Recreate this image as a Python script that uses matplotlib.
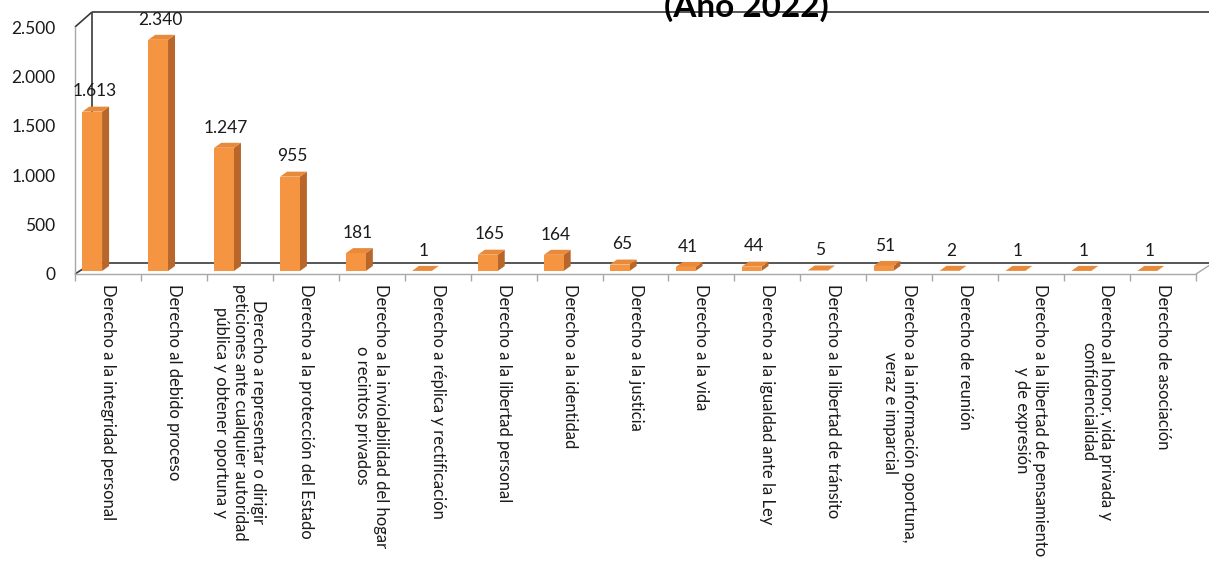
import matplotlib
matplotlib.use("Agg")
import matplotlib.pyplot as plt
from matplotlib.patches import Polygon

# ---------------- data ----------------
categories = [
    "Derecho a la integridad personal",
    "Derecho al debido proceso",
    "Derecho a representar o dirigir\npeticiones ante cualquier autoridad\npública y obtener oportuna y",
    "Derecho a la protección del Estado",
    "Derecho a la inviolabilidad del hogar\no recintos privados",
    "Derecho a réplica y rectificación",
    "Derecho a la libertad personal",
    "Derecho a la identidad",
    "Derecho a la justicia",
    "Derecho a la vida",
    "Derecho a la igualdad ante la Ley",
    "Derecho a la libertad de tránsito",
    "Derecho a la información oportuna,\nveraz e imparcial",
    "Derecho de reunión",
    "Derecho a la libertad de pensamiento\ny de expresión",
    "Derecho al honor, vida privada y\nconfidencialidad",
    "Derecho de asociación",
]
values = [1613, 2340, 1247, 955, 181, 1, 165, 164, 65, 41, 44, 5, 51, 2, 1, 1, 1]
y_ticks = [0, 500, 1000, 1500, 2000, 2500]
title_text = "(Año 2022)"

# ---------------- style ----------------
plt.rcParams['font.family'] = ['Lato', 'DejaVu Sans']
W, H, DPI = 1209, 561, 100
FRONT = '#F59441'
TOP = '#E88A3A'
SIDE = '#B8662A'
DARK = '#3A3A3A'
GRAY = '#A8A8A8'
FS = 12.5
FSX = 12.0

fig = plt.figure(figsize=(W / DPI, H / DPI), dpi=DPI)
fig.patch.set_facecolor('white')

x0_px, x1_px = 75, 1196
y0_px, y1_px = 274, 27
ax = fig.add_axes([x0_px / W, 1 - y0_px / H, (x1_px - x0_px) / W, (y0_px - y1_px) / H])
n = len(categories)
ymax = y_ticks[-1]
ax.set_xlim(0, n)
ax.set_ylim(0, ymax)
ax.patch.set_visible(False)

# pixel -> data conversion helpers (for 3D depth offsets)
pxx = (x1_px - x0_px) / n          # px per category
pxy = (y0_px - y1_px) / ymax       # px per value unit
def dx(p):
    return p / pxx
def dy(p):
    return p / pxy

# ---------------- walls / floor ----------------
wall_dx, floor_dy, top_dy = dx(17), dy(11), dy(15)
lw_dark = 1.2
kw = dict(clip_on=False, zorder=1, solid_capstyle='butt')
ax.plot([wall_dx, n + wall_dx + dx(30)], [ymax + top_dy] * 2, color=DARK, lw=lw_dark, **kw)
ax.plot([wall_dx, wall_dx], [floor_dy, ymax + top_dy], color=DARK, lw=lw_dark, **kw)
ax.plot([0, wall_dx], [ymax, ymax + top_dy], color=DARK, lw=lw_dark, **kw)
ax.plot([0, wall_dx], [0, floor_dy], color=DARK, lw=lw_dark, **kw)
ax.plot([wall_dx, n + wall_dx + dx(30)], [floor_dy] * 2, color=DARK, lw=lw_dark, **kw)
ax.plot([n, n + wall_dx], [0, floor_dy], color=GRAY, lw=1.0, **kw)

for s in ['top', 'right']:
    ax.spines[s].set_visible(False)
for s in ['left', 'bottom']:
    ax.spines[s].set_color(GRAY)
    ax.spines[s].set_linewidth(1.0)
    ax.spines[s].set_zorder(1)

# ---------------- bars (pseudo 3D) ----------------
f_dx, f_dy = dx(4), dy(3)     # front face depth offset
b_dx, b_dy = dx(11), dy(8)    # back face depth offset
bw = 0.30
inset = 0.05
for i, v in enumerate(values):
    xl = i + inset + f_dx
    xr = xl + bw
    yb = f_dy
    yt = v + f_dy
    # side face
    ax.add_patch(Polygon([(xr, yb), (xr - f_dx + b_dx, yb - f_dy + b_dy),
                          (xr - f_dx + b_dx, yt - f_dy + b_dy), (xr, yt)],
                         closed=True, facecolor=SIDE, edgecolor='none', zorder=3))
    # front face
    ax.add_patch(Polygon([(xl, yb), (xr, yb), (xr, yt), (xl, yt)],
                         closed=True, facecolor=FRONT, edgecolor='none', zorder=4))
    # top face
    ax.add_patch(Polygon([(xl, yt), (xr, yt), (xr - f_dx + b_dx, yt - f_dy + b_dy),
                          (xl - f_dx + b_dx, yt - f_dy + b_dy)],
                         closed=True, facecolor=TOP, edgecolor='none', zorder=4))
    label = f"{v:,}".replace(",", ".")
    ax.annotate(label, xy=((xl + xr) / 2, yt), xytext=(1.5, 11), textcoords='offset points',
                ha='center', va='baseline', fontsize=FS, color='#1a1a1a', zorder=6,
                annotation_clip=False)

# ---------------- axes ticks ----------------
ax.set_yticks(y_ticks)
ax.set_yticklabels([f"{t:,}".replace(",", ".") for t in y_ticks], fontsize=FS, color='#1a1a1a')
ax.tick_params(axis='y', length=0, pad=14)

ax.set_xticks(range(n + 1))
ax.set_xticklabels([''] * (n + 1))
ax.tick_params(axis='x', which='major', length=5, color=GRAY, width=1.0, direction='out')
ax.set_xticks([i + 0.5 for i in range(n)], minor=True)
ax.set_xticklabels(categories, minor=True, rotation=270, fontsize=FSX, color='#1a1a1a',
                   va='top', ha='center')
ax.tick_params(axis='x', which='minor', length=0, pad=7)
for t in ax.get_xticklabels(minor=True):
    t.set_multialignment('center')
    t.set_linespacing(1.2)

# ---------------- title (partly cut off, as in the source) ----------------
fig.text(746 / W, 1 - 17 / H, title_text, ha='center', va='baseline', fontsize=24,
         fontweight='bold', color='black', zorder=10)

fig.savefig('out.png', dpi=DPI, facecolor='white')
